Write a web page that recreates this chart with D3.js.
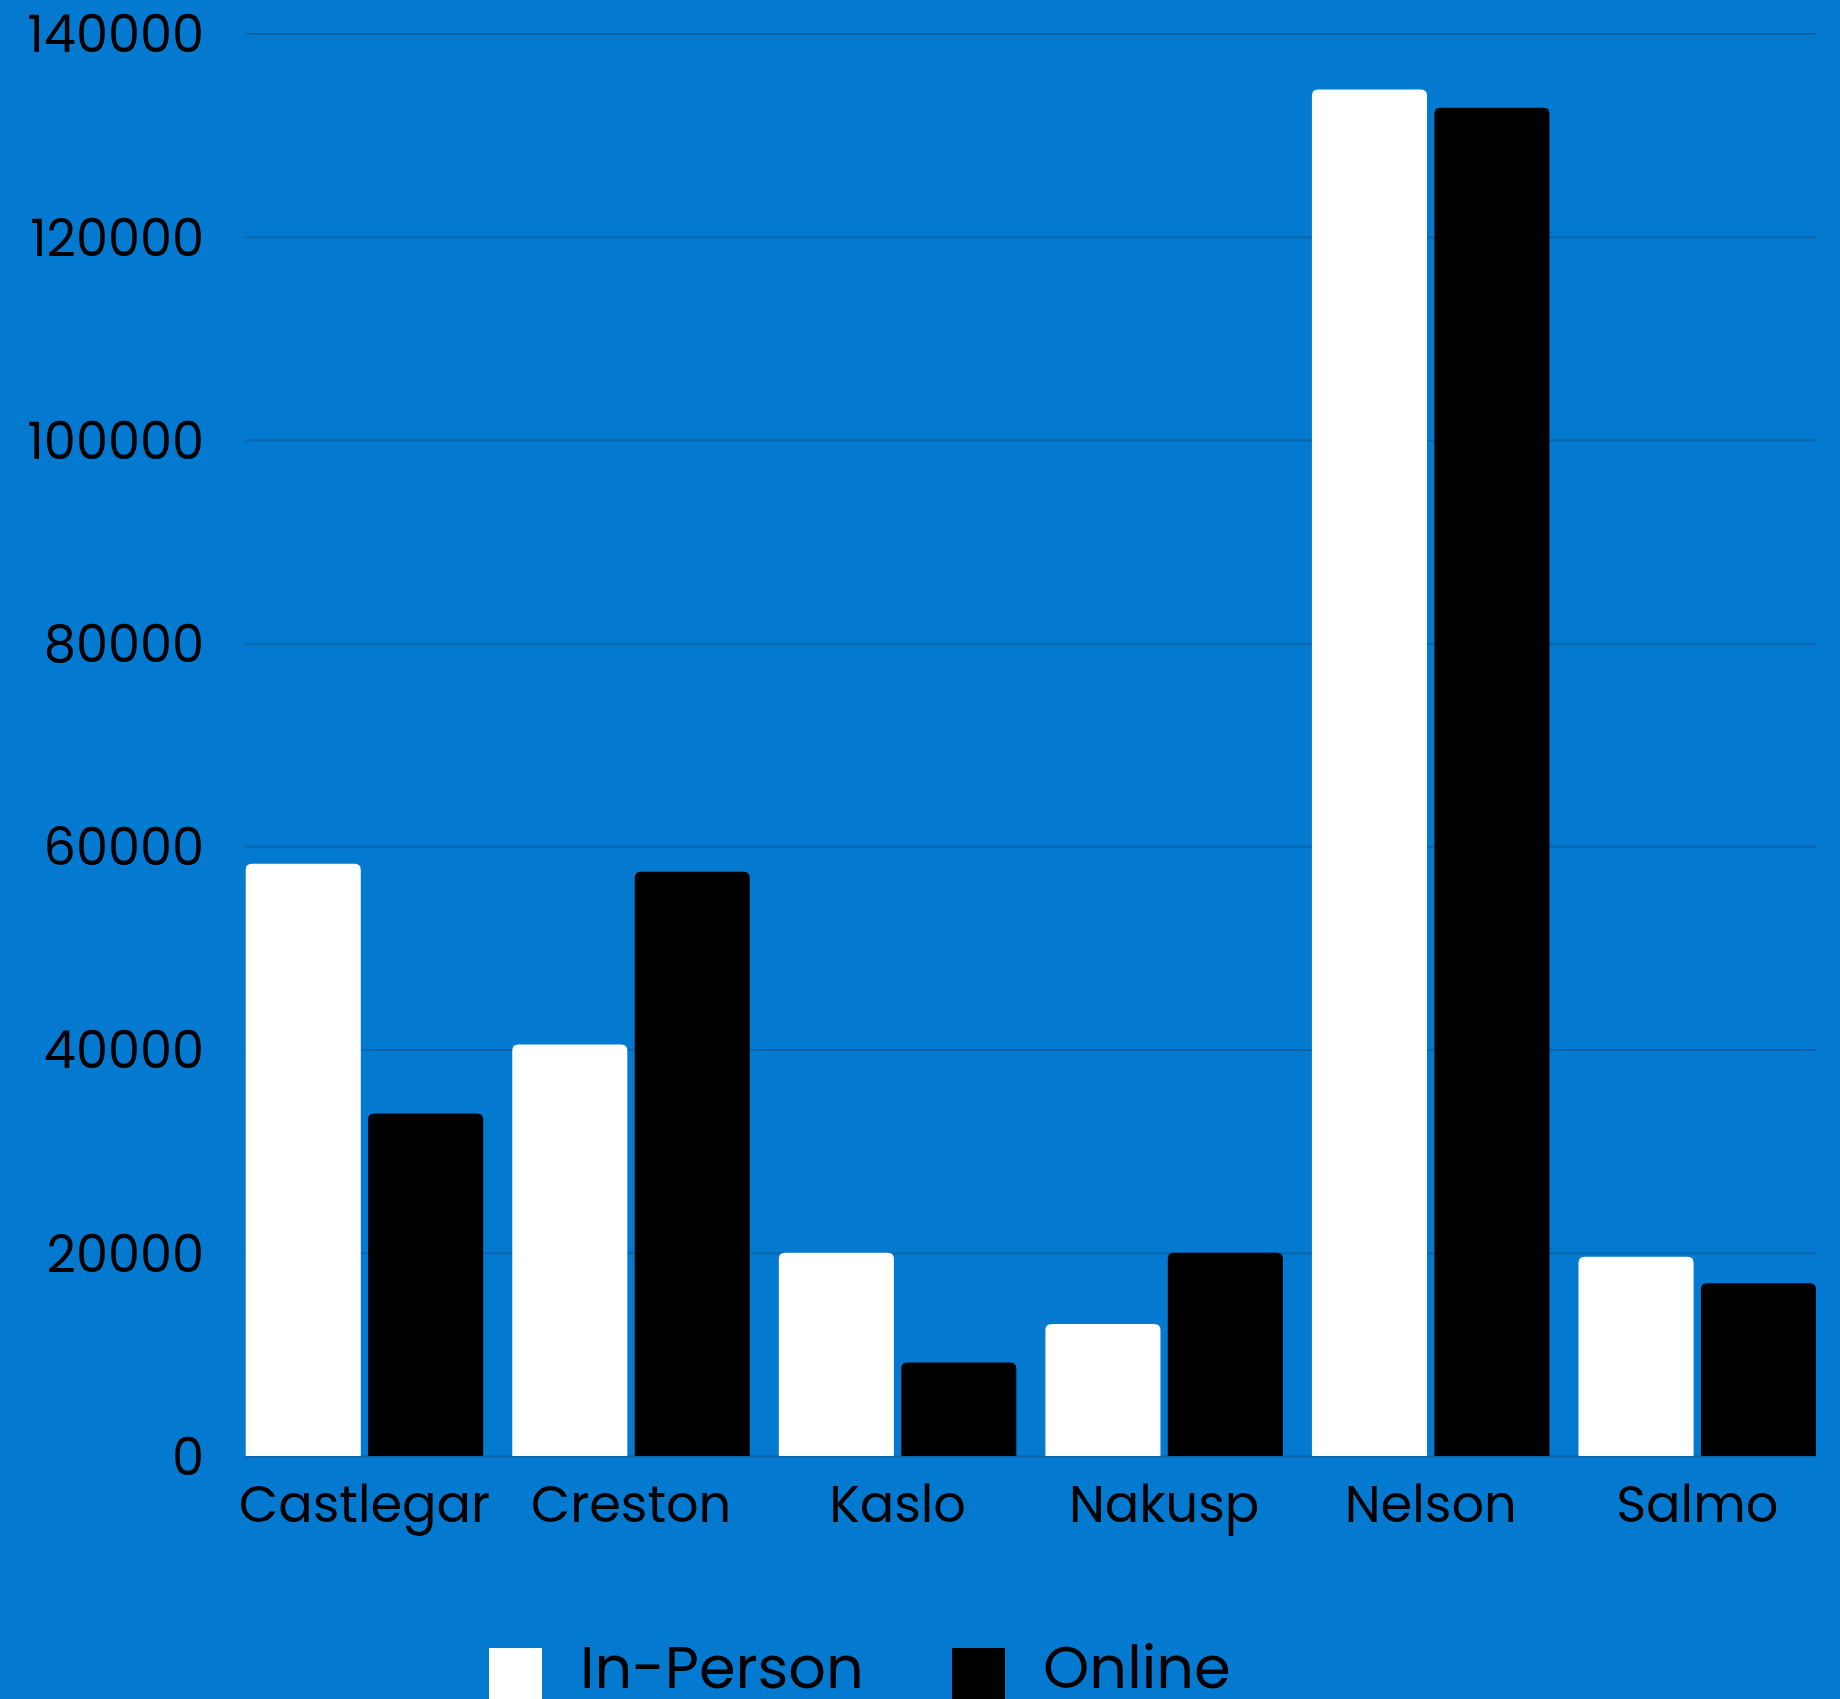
<!DOCTYPE html>
<html>
<head>
<meta charset="utf-8">
<script src="https://cdn.jsdelivr.net/npm/d3@7"></script>
<style>
  html, body { margin: 0; padding: 0; background: #0379cf; }
  svg { display: block; }
  text { font-family: Poppins, Inter, "Open Sans", sans-serif; fill: #000; }
</style>
</head>
<body>
<svg id="chart" width="1840" height="1699"></svg>
<script>
// Attendance by community, split by delivery mode
const categories = ["Castlegar", "Creston", "Kaslo", "Nakusp", "Nelson", "Salmo"];
const inPerson = [58300, 40500, 20000, 13000, 134500, 19600];
const online = [33700, 57500, 9200, 20000, 132700, 17000];
const seriesNames = ["In-Person", "Online"];
const seriesColors = ["#ffffff", "#000000"];
const yTicks = [0, 20000, 40000, 60000, 80000, 100000, 120000, 140000];

const W = 1840, H = 1699;
const margin = { top: 33.5, right: 24, bottom: 243, left: 245.7 };
const innerW = W - margin.left - margin.right;
const innerH = H - margin.top - margin.bottom;

const svg = d3.select("#chart");
svg.append("rect").attr("width", W).attr("height", H).attr("fill", "#0379cf");

const g = svg.append("g").attr("transform", `translate(${margin.left},${margin.top})`);

const y = d3.scaleLinear().domain([0, 140000]).range([innerH, 0]);
const x0 = d3.scaleBand().domain(categories).range([0, innerW]).paddingInner(0.109).paddingOuter(0);
const x1 = d3.scaleBand().domain(seriesNames).range([0, x0.bandwidth()]).paddingInner(0.06).paddingOuter(0);

// horizontal gridlines
const grid = g.append("g").attr("class", "grid")
  .call(d3.axisLeft(y).tickValues(yTicks).tickSize(-innerW).tickFormat(""));
grid.select(".domain").remove();
grid.selectAll("line").attr("stroke", "#0b5f9f").attr("stroke-width", 2).attr("stroke-opacity", 0.75);

// y tick labels
const yAxis = svg.append("g").attr("transform", `translate(204,${margin.top})`)
  .call(d3.axisLeft(y).tickValues(yTicks).tickSize(0).tickPadding(0).tickFormat(d3.format("d")));
yAxis.select(".domain").remove();
yAxis.selectAll("text")
  .attr("font-size", 51)
  .attr("dy", "0.36em")
  .attr("fill", "#000")
  .style("font-family", 'Poppins, Inter, "Open Sans", sans-serif');

// bar with rounded top corners
function topRounded(x, yTop, w, h, r) {
  r = Math.min(r, w / 2, h);
  return `M${x},${yTop + h}V${yTop + r}Q${x},${yTop} ${x + r},${yTop}` +
         `H${x + w - r}Q${x + w},${yTop} ${x + w},${yTop + r}V${yTop + h}Z`;
}

const rows = categories.map((c, i) => ({ cat: c, values: [inPerson[i], online[i]] }));

const groups = g.selectAll(".grp").data(rows).join("g")
  .attr("class", "grp")
  .attr("transform", d => `translate(${x0(d.cat)},0)`);

groups.selectAll("path").data(d => d.values.map((v, k) => ({ v, k })))
  .join("path")
  .attr("fill", d => seriesColors[d.k])
  .attr("d", d => topRounded(x1(seriesNames[d.k]), y(d.v), x1.bandwidth(), y(0) - y(d.v), 6));

// x category labels
const xAxis = g.append("g").attr("transform", `translate(0,${innerH})`)
  .call(d3.axisBottom(x0).tickSize(0).tickPadding(0));
xAxis.select(".domain").remove();
xAxis.selectAll("text")
  .attr("font-size", 51)
  .attr("dy", 0)
  .attr("y", 65.7)
  .attr("fill", "#000")
  .style("font-family", 'Poppins, Inter, "Open Sans", sans-serif');

// legend
const legendItems = [
  { name: seriesNames[0], color: seriesColors[0], sx: 489, tx: 580 },
  { name: seriesNames[1], color: seriesColors[1], sx: 952, tx: 1043 }
];
const legend = svg.append("g").attr("class", "legend");
legend.selectAll("rect").data(legendItems).join("rect")
  .attr("x", d => d.sx).attr("y", 1648).attr("width", 53).attr("height", 53)
  .attr("fill", d => d.color);
legend.selectAll("text").data(legendItems).join("text")
  .attr("x", d => d.tx).attr("y", 1688.3)
  .attr("font-size", 59)
  .text(d => d.name);
</script>
</body>
</html>
